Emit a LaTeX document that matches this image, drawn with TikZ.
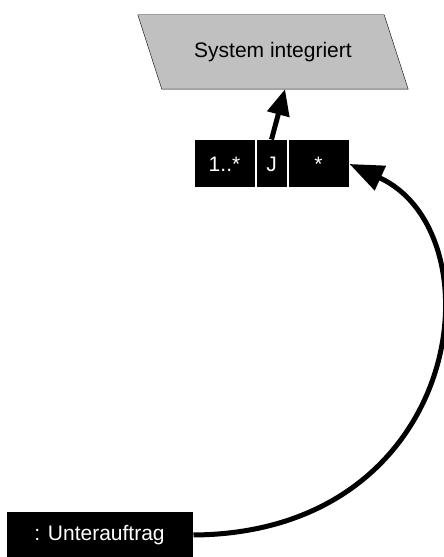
\documentclass[tikz,border=0pt]{standalone}
\usepackage{fontspec}
\setmainfont{Liberation Sans}
\usetikzlibrary{arrows.meta,positioning,backgrounds}
\definecolor{statefill}{HTML}{C0C0C0}

\begin{document}
\begin{tikzpicture}[
  x=1pt, y=1pt,
  font=\fontsize{21}{25}\selectfont,
  state/.style={minimum width=246pt, minimum height=74pt, inner sep=0pt},
  part/.style={draw=white, line width=1pt, fill=black, text=white, minimum height=48pt,
    inner sep=0pt},
  flow/.style={line width=5pt},
  bigtip/.style={-{Triangle[length=26pt, width=22pt]}},
  hugetip/.style={-{Triangle[length=34pt, width=26pt]}}
]
  \useasboundingbox (0,0) rectangle (444,557);

  \node[state] (sys) at (273,505) {System integriert};
  \node[part, minimum width=61pt] (mult) at (224.5,393) {1..*};
  \node[part, minimum width=31pt, right=0pt of mult] (flag) {J};
  \node[part, minimum width=61pt, right=0pt of flag] (any) {*};
  \node[part, minimum width=187pt, minimum height=46pt] (sub) at (99.5,22) {: Unterauftrag};

  % slanted outline of the state, behind its text
  \begin{scope}[on background layer]
    \draw[fill=statefill] ([xshift=-12pt]sys.north west) -- ([xshift=-12pt]sys.north east)
      -- ([xshift=12pt]sys.south east) -- ([xshift=12pt]sys.south west) -- cycle;
  \end{scope}

  \draw[flow, bigtip] (flag.north) -- ([xshift=12pt]sys.south);
  % loops round the right side back into the last field
  \draw[flow, hugetip] (sub.east) .. controls (466,24) and (500,324) .. (any.east);
\end{tikzpicture}
\end{document}
